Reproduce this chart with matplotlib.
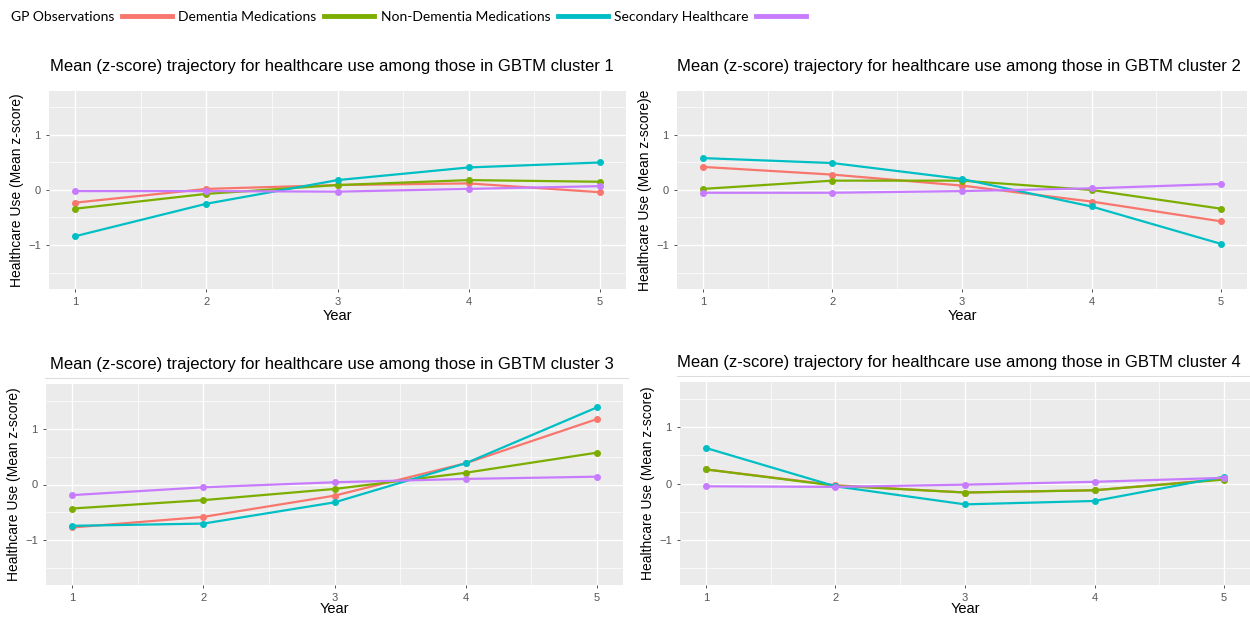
import numpy as np
import matplotlib.pyplot as plt
from matplotlib.lines import Line2D

years = [1, 2, 3, 4, 5]
series_names = ["GP Observations", "Dementia Medications", "Non-Dementia Medications", "Secondary Healthcare"]
colors = ["#F8766D", "#7CAE00", "#00BFC4", "#C77CFF"]

# cluster values, order: red, green, teal, purple
c1_red = [-0.23, 0.02, 0.09, 0.12, -0.04]
c1_green = [-0.34, -0.07, 0.09, 0.18, 0.15]
c1_teal = [-0.84, -0.25, 0.18, 0.41, 0.50]
c1_purple = [-0.02, -0.02, -0.03, 0.02, 0.07]

c2_red = [0.42, 0.28, 0.08, -0.21, -0.57]
c2_green = [0.02, 0.17, 0.17, 0.00, -0.34]
c2_teal = [0.58, 0.49, 0.20, -0.30, -0.98]
c2_purple = [-0.05, -0.05, -0.02, 0.03, 0.11]

c3_red = [-0.77, -0.58, -0.20, 0.38, 1.17]
c3_green = [-0.43, -0.28, -0.08, 0.21, 0.57]
c3_teal = [-0.74, -0.70, -0.32, 0.38, 1.38]
c3_purple = [-0.19, -0.05, 0.04, 0.10, 0.14]

c4_red = [0.25, -0.03, -0.16, -0.12, 0.08]
c4_green = [0.25, -0.04, -0.16, -0.12, 0.07]
c4_teal = [0.63, -0.05, -0.37, -0.31, 0.12]
c4_purple = [-0.05, -0.06, -0.02, 0.03, 0.10]

clusters = [
    [c1_red, c1_green, c1_teal, c1_purple],
    [c2_red, c2_green, c2_teal, c2_purple],
    [c3_red, c3_green, c3_teal, c3_purple],
    [c4_red, c4_green, c4_teal, c4_purple],
]
titles = ["Mean (z-score) trajectory for healthcare use among those in GBTM cluster %d" % i for i in range(1, 5)]
ylabels = ["Healthcare Use (Mean z-score)", "Healthcare Use (Mean z-score)e",
           "Healthcare Use (Mean z-score)", "Healthcare Use (Mean z-score)"]

W, H = 1250, 617
# panel boxes in pixels: left, top, right, bottom
boxes = [(49, 91, 626, 289), (677, 91, 1247, 289), (46, 384, 623, 585), (680, 382, 1250, 585)]
title_pos = [(50, 67), (677, 67), (50, 364), (677, 362)]
xlabel_pad = [1, 1, -1, -1]

plt.rcParams['font.family'] = ['Liberation Sans', 'DejaVu Sans']
fig = plt.figure(figsize=(12.5, 6.17), dpi=100)

for i in range(4):
    l, t, r, b = boxes[i]
    ax = fig.add_axes([l / W, 1 - b / H, (r - l) / W, (b - t) / H])
    ax.set_facecolor("#EBEBEB")
    for s in ax.spines.values():
        s.set_visible(False)
    ax.set_xlim(0.8, 5.2)
    ax.set_ylim(-1.8, 1.8)
    ax.set_xticks(years)
    ax.set_yticks([-1, 0, 1])
    ax.set_xticks([1.5, 2.5, 3.5, 4.5], minor=True)
    ax.set_yticks([-1.5, -0.5, 0.5, 1.5], minor=True)
    ax.grid(which='major', color='white', lw=1.0)
    ax.grid(which='minor', color='white', lw=0.5)
    ax.set_axisbelow(True)
    ax.tick_params(which='major', colors='#333333', labelcolor='#555555', labelsize=8, length=2.5, width=0.6)
    ax.tick_params(which='minor', length=0)
    for vals, c in zip(clusters[i], colors):
        ax.plot(years, vals, color=c, lw=1.6, marker='o', ms=4)
    ax.set_xlabel("Year", fontsize=10.5, labelpad=xlabel_pad[i])
    ax.set_ylabel(ylabels[i], fontsize=10, labelpad=3)
    tx, ty = title_pos[i]
    fig.text(tx / W, 1 - ty / H, titles[i], fontsize=12, ha='left', va='center')

# separator lines under the bottom titles
fig.add_artist(Line2D([45 / W, 628 / W], [1 - 378 / H] * 2, color='#DDDDDD', lw=0.8))
fig.add_artist(Line2D([677 / W, 1 / 1], [1 - 376 / H] * 2, color='#DDDDDD', lw=0.8))

handles = [Line2D([], [], color=c, lw=3.5) for c in colors]
fig.legend(handles, series_names, loc='upper left', bbox_to_anchor=(0.0, 1.0), ncol=4,
           frameon=False, markerfirst=False, handlelength=3.6, handletextpad=0.55,
           columnspacing=0.45, borderaxespad=0.4, prop={'family': 'Lato', 'size': 10})

fig.savefig("out.png", dpi=100)
